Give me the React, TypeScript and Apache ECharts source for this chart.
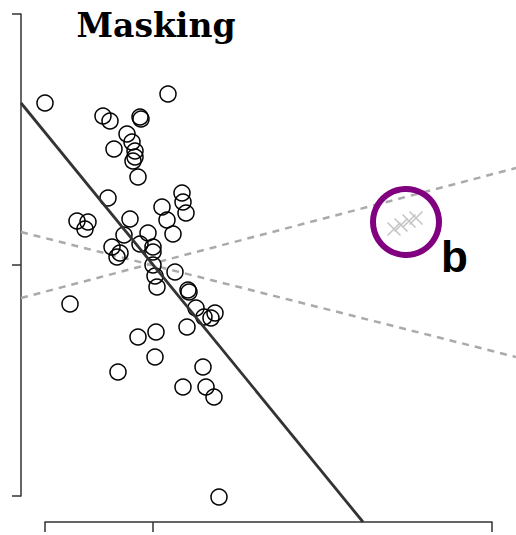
import React, { useEffect, useRef } from "react";
import * as echarts from "echarts";

// Regular observations (open circles)
const circleX = [
  -10.8, 1.5, -5.0, -4.3, -1.3, -1.2, -2.6, -2.1, -3.9, -1.8, -1.8, -2.0, -1.5, -4.5,
  2.9, 3.0, 3.3, 0.9, 1.4, 2.0, -2.3, -7.6, -6.5, -6.8, -2.9, -0.5, -1.3, 0.0, 0.0,
  -4.1, -3.3, -3.6, 0.0, 2.2, 0.2, 0.4, 3.5, 3.6, 4.3, 5.1, 5.8, 6.2, 3.4, -1.5, 0.3,
  -8.3, 0.2, -3.5, 5.0, 3.0, 5.3, 6.1, 6.6,
];
const circleY = [
  16.2, 17.1, 14.9, 14.4, 14.8, 14.6, 13.1, 12.3, 11.6, 11.4, 10.8, 10.4, 8.8, 6.7,
  7.2, 6.3, 5.2, 5.8, 4.5, 3.1, 4.6, 4.4, 4.3, 3.6, 3.0, 3.2, 2.1, 1.8, 1.3,
  1.8, 1.2, 0.8, 0.0, -0.7, -1.1, -2.2, -2.5, -2.7, -4.3, -5.2, -5.3, -4.8, -6.2, -7.2, -6.7,
  -3.9, -9.2, -10.7, -10.2, -12.2, -12.2, -13.2, -23.2,
];

// Masked outlier group (grey crosses) and its highlight
const crossX = [24.1, 24.8, 25.6, 26.3];
const crossY = [3.6, 4.0, 4.4, 4.7];
const highlightX = [25.3];
const highlightY = [4.3];

// Fitted line (solid) and the two dashed reference lines
const fitLineX = [-13.2, 21.0];
const fitLineY = [16.2, -25.7];
const dashUpX = [-13.2, 36.3];
const dashUpY = [-3.3, 9.7];
const dashDownX = [-13.2, 36.3];
const dashDownY = [3.3, -9.2];

// Axis ticks (no labels)
const xTicks = [-10.8, 0, 33.9];
const yTicks = [-23.1, 0, 25.1];

const titleText = "Masking";
const labelText = "b";

const zip = (xs: number[], ys: number[]) => xs.map((x, i) => [x, ys[i]]);

export default function App() {
  const ref = useRef<HTMLDivElement>(null);
  useEffect(() => {
    if (!ref.current) return;
    const chart = echarts.init(ref.current, null, { renderer: "svg" });
    const axisColor = "#333";
    chart.setOption({
      animation: false,
      backgroundColor: "#fff",
      grid: [
        { left: 21, top: 0, width: 495, height: 522 },
        { left: 21, top: 14, width: 1, height: yTicks[2] * 10 - yTicks[0] * 10 },
        { left: 45, top: 521, width: 447, height: 1 },
      ],
      xAxis: [
        { gridIndex: 0, type: "value", min: -13.2, max: 36.3, show: false },
        { gridIndex: 1, type: "value", min: 0, max: 1, show: false },
        {
          gridIndex: 2,
          type: "value",
          position: "bottom",
          min: xTicks[0],
          max: xTicks[2],
          axisLine: { show: true, onZero: false, lineStyle: { color: axisColor, width: 1.5 } },
          axisTick: { show: true, length: 10, customValues: xTicks, lineStyle: { color: axisColor, width: 1.5 } },
          axisLabel: { show: false },
          splitLine: { show: false },
        },
      ],
      yAxis: [
        { gridIndex: 0, type: "value", min: -25.7, max: 26.5, show: false },
        {
          gridIndex: 1,
          type: "value",
          position: "left",
          min: yTicks[0],
          max: yTicks[2],
          axisLine: { show: true, onZero: false, lineStyle: { color: axisColor, width: 1.5 } },
          axisTick: { show: true, length: 9, customValues: yTicks, lineStyle: { color: axisColor, width: 1.5 } },
          axisLabel: { show: false },
          splitLine: { show: false },
        },
        { gridIndex: 2, type: "value", min: 0, max: 1, show: false },
      ],
      series: [
        {
          type: "line",
          data: zip(dashUpX, dashUpY),
          showSymbol: false,
          symbol: "none",
          lineStyle: { color: "#aaaaaa", width: 2.5, type: [7, 6] },
          z: 1,
        },
        {
          type: "line",
          data: zip(dashDownX, dashDownY),
          showSymbol: false,
          symbol: "none",
          lineStyle: { color: "#aaaaaa", width: 2.5, type: [7, 6] },
          z: 1,
        },
        {
          type: "scatter",
          data: zip(circleX, circleY),
          symbol: "circle",
          symbolSize: 16,
          itemStyle: { color: "rgba(0,0,0,0)", borderColor: "#000", borderWidth: 1.5, opacity: 1 },
          z: 2,
        },
        {
          type: "scatter",
          data: zip(crossX, crossY),
          symbol: "path://M0,0L10,10M10,0L0,10",
          symbolSize: 13,
          itemStyle: { color: "rgba(0,0,0,0)", borderColor: "#c4c4c4", borderWidth: 1.5, opacity: 1 },
          z: 2,
        },
        {
          type: "scatter",
          data: zip(highlightX, highlightY),
          symbol: "circle",
          symbolSize: 66,
          itemStyle: { color: "rgba(0,0,0,0)", borderColor: "#800080", borderWidth: 6, opacity: 1 },
          z: 3,
        },
        {
          type: "line",
          data: zip(fitLineX, fitLineY),
          showSymbol: false,
          symbol: "none",
          clip: true,
          lineStyle: { color: "#333", width: 2.8 },
          z: 4,
        },
      ],
      graphic: [
        {
          type: "text",
          x: 156,
          y: 25,
          style: {
            text: titleText,
            fill: "#000",
            font: "bold 33px 'DejaVu Serif'",
            align: "center",
            verticalAlign: "middle",
          },
        },
        {
          type: "text",
          x: 441,
          y: 256,
          style: {
            text: labelText,
            fill: "#000",
            font: "bold 44px 'Liberation Sans'",
            align: "left",
            verticalAlign: "middle",
          },
        },
      ],
    });
    return () => chart.dispose();
  }, []);
  return (
    <div
      ref={ref}
      style={{ position: "fixed", left: 0, top: 0, width: 516, height: 535 }}
    />
  );
}
